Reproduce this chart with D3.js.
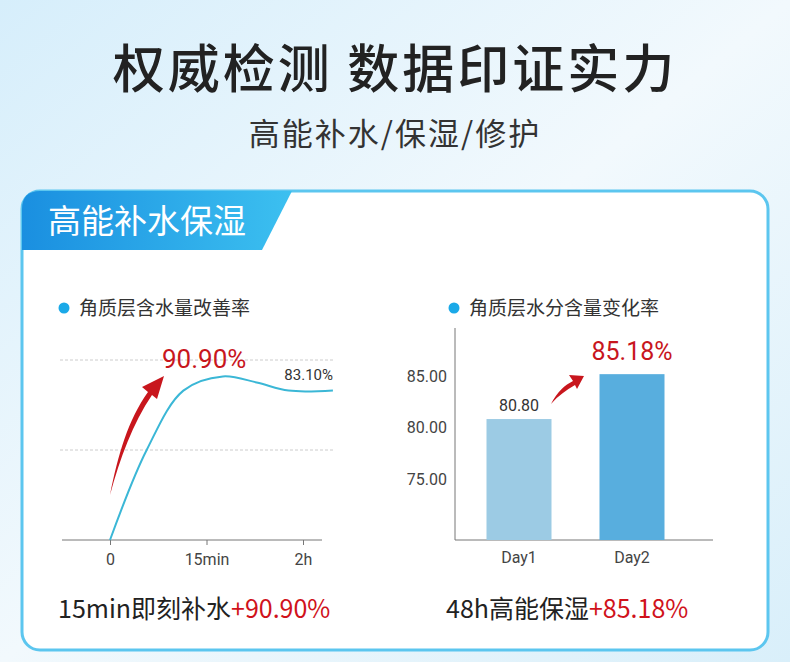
<!DOCTYPE html>
<html><head><meta charset="utf-8">
<script src="https://cdn.jsdelivr.net/npm/d3@7"></script>
<style>body{margin:0;} svg{display:block;font-family:"Noto Sans CJK SC","Noto Sans",sans-serif;}</style>
</head><body>
<script>
// left chart: improvement curve (x in tick units: 0, 15min, 2h)
var timeTicks = ["0", "15min", "2h"];
var curveX = [0, 0.38, 0.76, 1.17, 1.52, 1.85, 2.31];
var curveY = [0, 50, 83, 90.9, 87.5, 83, 83.1];
// right chart: bars
var days = ["Day1", "Day2"];
var dayValues = [80.80, 85.18];
var barTicks = [75, 80, 85];

var W = 790, H = 662;
var svg = d3.select("body").append("svg").attr("width", W).attr("height", H);
var defs = svg.append("defs");
var bg = defs.append("linearGradient").attr("id", "bg").attr("x1", 0).attr("y1", 0).attr("x2", 1).attr("y2", 1);
bg.append("stop").attr("offset", "0%").attr("stop-color", "#d6eefb");
bg.append("stop").attr("offset", "50%").attr("stop-color", "#f2f9fd");
bg.append("stop").attr("offset", "100%").attr("stop-color", "#d9effa");
var tab = defs.append("linearGradient").attr("id", "tab").attr("x1", 0).attr("x2", 1);
tab.append("stop").attr("offset", "0%").attr("stop-color", "#1a8fe0");
tab.append("stop").attr("offset", "100%").attr("stop-color", "#3cc0f0");

svg.append("rect").attr("width", W).attr("height", H).attr("fill", "url(#bg)");

svg.append("text").attr("x", W / 2).attr("y", 88).attr("text-anchor", "middle")
  .attr("font-size", 52).attr("font-weight", 500).attr("fill", "#222").attr("letter-spacing", 3)
  .text("权威检测 数据印证实力");
svg.append("text").attr("x", W / 2).attr("y", 145).attr("text-anchor", "middle")
  .attr("font-size", 31).attr("fill", "#333").attr("letter-spacing", 2)
  .text("高能补水/保湿/修护");

// card
svg.append("rect").attr("x", 22).attr("y", 191).attr("width", 746).attr("height", 459).attr("rx", 18)
  .attr("fill", "#fff").attr("stroke", "#5cc6ef").attr("stroke-width", 3);
svg.append("path").attr("d", "M22,209 Q22,191 40,191 L292,191 L262,250 L22,250 Z").attr("fill", "url(#tab)");
svg.append("text").attr("x", 48).attr("y", 233).attr("font-size", 33).attr("fill", "#fff").text("高能补水保湿");

// legends
[[64, "角质层含水量改善率"], [454, "角质层水分含量变化率"]].forEach(function (l) {
  svg.append("circle").attr("cx", l[0]).attr("cy", 308).attr("r", 5.5).attr("fill", "#1aa9e8");
  svg.append("text").attr("x", l[0] + 15).attr("y", 315).attr("font-size", 19).attr("fill", "#333").text(l[1]);
});

// left chart
var x = d3.scaleLinear().domain([0, 2]).range([110, 303]);
var y = d3.scaleLinear().domain([0, 100]).range([540, 360]);
[50, 100].forEach(function (v) {
  svg.append("line").attr("x1", 60).attr("x2", 333).attr("y1", y(v)).attr("y2", y(v))
    .attr("stroke", "#ccc").attr("stroke-dasharray", "3,2");
});
var xAxis = svg.append("g").attr("transform", "translate(0,540)")
  .call(d3.axisBottom(x).tickValues([0, 1, 2]).tickFormat(function (d, i) { return timeTicks[i]; }).tickSize(5).tickSizeOuter(0));
xAxis.select(".domain").attr("d", "M62,0H322").attr("stroke", "#777");
xAxis.selectAll("line").attr("stroke", "#777");
xAxis.selectAll("text").attr("font-size", 16).attr("fill", "#444").attr("dy", "1.05em").attr("font-family", "Roboto");

var pts = curveX.map(function (d, i) { return [d, curveY[i]]; });
svg.append("path").datum(pts).attr("fill", "none").attr("stroke", "#3bb7d6").attr("stroke-width", 2)
  .attr("d", d3.line().x(function (d) { return x(d[0]); }).y(function (d) { return y(d[1]); }).curve(d3.curveCatmullRom.alpha(0.5)));
svg.append("text").attr("x", 333).attr("y", y(83.1) - 10).attr("text-anchor", "end")
  .attr("font-size", 15).attr("fill", "#333").attr("font-family", "Roboto").text("83.10%");
svg.append("text").attr("x", 162).attr("y", 368).attr("font-size", 26).attr("fill", "#c8161d").attr("font-family", "Roboto")
  .text(d3.max(curveY).toFixed(2) + "%");
// red arrow left
svg.append("path").attr("d", "M110,495 C118,455 128,420 148,392 L142,387 L164,376 L157,399 L152,395 C133,423 120,458 110,495 Z")
  .attr("fill", "#c8161d");

// right chart
var xb = d3.scalePoint().domain(days).range([519, 632]);
var yb = d3.scaleLinear().domain([69, 85]).range([540, 376]);
var bw = 65;
svg.append("line").attr("x1", 455).attr("x2", 455).attr("y1", 328).attr("y2", 540).attr("stroke", "#777");
svg.append("line").attr("x1", 455).attr("x2", 713).attr("y1", 540).attr("y2", 540).attr("stroke", "#777");
svg.selectAll(".ytick").data(barTicks).enter().append("text")
  .attr("x", 447).attr("y", function (d) { return yb(d) + 6; }).attr("text-anchor", "end")
  .attr("font-size", 16).attr("fill", "#444").attr("font-family", "Roboto")
  .text(function (d) { return d.toFixed(2); });
svg.selectAll(".bar").data(days).enter().append("rect")
  .attr("x", function (d) { return xb(d) - bw / 2; })
  .attr("y", function (d, i) { return yb(dayValues[i]); })
  .attr("width", bw)
  .attr("height", function (d, i) { return 540 - yb(dayValues[i]); })
  .attr("fill", function (d, i) { return i ? "#58aede" : "#9ccbe4"; });
svg.selectAll(".xl").data(days).enter().append("text")
  .attr("x", function (d) { return xb(d); }).attr("y", 563).attr("text-anchor", "middle")
  .attr("font-size", 16).attr("fill", "#444").attr("font-family", "Roboto").text(function (d) { return d; });
svg.append("text").attr("x", xb("Day1")).attr("y", yb(dayValues[0]) - 8).attr("text-anchor", "middle")
  .attr("font-size", 16).attr("fill", "#333").attr("font-family", "Roboto").text(dayValues[0].toFixed(2));
svg.append("text").attr("x", xb("Day2")).attr("y", yb(dayValues[1]) - 14).attr("text-anchor", "middle")
  .attr("font-size", 25).attr("fill", "#c8161d").attr("font-family", "Roboto").text(dayValues[1].toFixed(2) + "%");
// red arrow right
svg.append("path").attr("d", "M551,404 C557,392 565,385 573,381 L569,375 L584,376 L577,389 L575,385 C566,390 558,396 551,404 Z")
  .attr("fill", "#c8161d");

// bottom captions
function caption(x0, a, b) {
  var t = svg.append("text").attr("x", x0).attr("y", 618).attr("font-size", 25).attr("fill", "#222");
  t.append("tspan").text(a);
  t.append("tspan").attr("fill", "#d0121b").text(b);
}
caption(58, "15min即刻补水", "+90.90%");
caption(446, "48h高能保湿", "+85.18%");
</script>
</body></html>
